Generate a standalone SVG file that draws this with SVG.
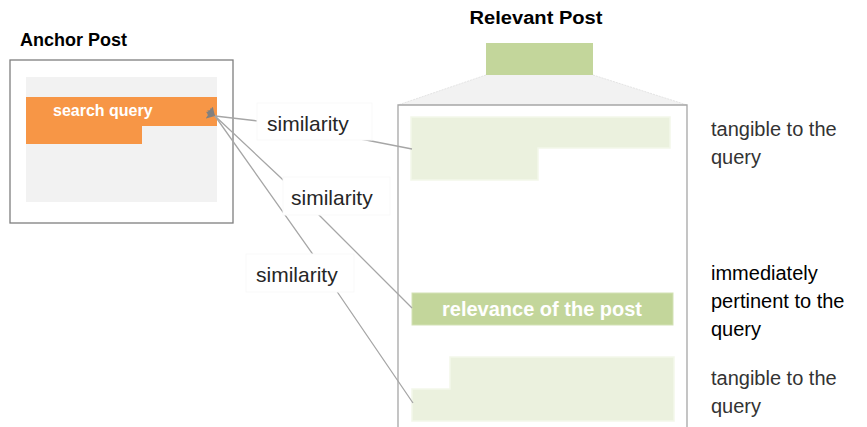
<svg xmlns="http://www.w3.org/2000/svg" width="867" height="427" viewBox="0 0 867 427">
  <style>
    .title { font-family: "Liberation Sans", Arial, sans-serif; font-weight: bold; font-size: 18px; fill: #000; }
    .inner { font-family: "Liberation Sans", Arial, sans-serif; font-weight: bold; fill: #fff; }
    .lbl { font-family: "Liberation Sans", Arial, sans-serif; font-size: 21px; fill: #262626; }
    .note { font-family: "Liberation Sans", Arial, sans-serif; font-size: 20px; fill: #333; }
    .note-strong { font-family: "Liberation Sans", Arial, sans-serif; font-size: 20px; fill: #000; }
    .conn { fill: none; stroke: #a6a6a6; stroke-width: 1.3; }
    .lblbox { fill: #fff; stroke: #f9f9f9; stroke-width: 1; }
    .light { fill: #ebf1de; stroke: #f3f7ea; stroke-width: 1.5; }
  </style>
  <defs>
    <marker id="tip" viewBox="0 0 10 10" refX="0" refY="5" markerWidth="9" markerHeight="9" orient="auto-start-reverse" markerUnits="userSpaceOnUse">
      <path d="M0,5 L10,1 L8,5 L10,9 Z" fill="#808080"/>
    </marker>
  </defs>

  <!-- anchor post -->
  <g id="anchor-post">
    <text class="title" x="20" y="46">Anchor Post</text>
    <rect x="10" y="60" width="223" height="163" fill="#fff" stroke="#7f7f7f" stroke-width="1.3"/>
    <rect x="26" y="77" width="191" height="125" fill="#f2f2f2"/>
    <path d="M26,97 H217 V126 H142 V144 H26 Z" fill="#f79646"/>
    <text class="inner" x="53" y="116" font-size="16">search query</text>
  </g>

  <!-- relevant post -->
  <g id="relevant-post">
    <text class="title" x="536" y="24" text-anchor="middle" textLength="133" lengthAdjust="spacingAndGlyphs">Relevant Post</text>
    <path d="M486,75 H593 L687,105 H398 Z" fill="#f2f2f2"/>
    <path d="M486,75 L398,105 M593,75 L687,105" stroke="#e4e4e4" stroke-width="1" stroke-dasharray="2 1" fill="none"/>
    <rect x="486" y="43" width="107" height="32" fill="#c3d69b"/>
    <path d="M398,430 V105 H687 V430" fill="#fff" stroke="#a6a6a6" stroke-width="1.3"/>
  </g>

  <g id="part-top">
    <path class="light" d="M411,117 H670 V148 H538 V180 H411 Z"/>
  </g>

  <g id="part-relevance">
    <rect x="412" y="293" width="261" height="32" fill="#c3d69b" stroke="#d3e2b5" stroke-width="1"/>
    <text class="inner" x="542" y="316" font-size="20" text-anchor="middle">relevance of the post</text>
  </g>

  <g id="part-bottom">
    <path class="light" d="M450,357 H674 V421 H412 V389 H450 Z"/>
  </g>

  <!-- connectors -->
  <g id="connectors">
    <path class="conn" d="M215,116 L258,121 L366,140 L412,149" marker-start="url(#tip)"/>
    <path class="conn" d="M215,116 L280,177 L320,216 L412,308" marker-start="url(#tip)"/>
    <path class="conn" d="M215,116 L312,253 L338,293 L413,403" marker-start="url(#tip)"/>
  </g>

  <!-- similarity labels -->
  <g id="label-1">
    <rect class="lblbox" x="257" y="103" width="115" height="37"/>
    <text class="lbl" x="267" y="131">similarity</text>
  </g>
  <g id="label-2">
    <rect class="lblbox" x="283" y="177" width="107" height="38"/>
    <text class="lbl" x="291" y="205">similarity</text>
  </g>
  <g id="label-3">
    <rect class="lblbox" x="246" y="254" width="108" height="38"/>
    <text class="lbl" x="256" y="282">similarity</text>
  </g>

  <!-- side notes -->
  <g id="note-top">
    <text class="note" x="711" y="136">tangible to the</text>
    <text class="note" x="711" y="164">query</text>
  </g>
  <g id="note-middle">
    <text class="note-strong" x="711" y="280">immediately</text>
    <text class="note-strong" x="711" y="308">pertinent to the</text>
    <text class="note-strong" x="711" y="336">query</text>
  </g>
  <g id="note-bottom">
    <text class="note" x="711" y="385">tangible to the</text>
    <text class="note" x="711" y="413">query</text>
  </g>
</svg>
